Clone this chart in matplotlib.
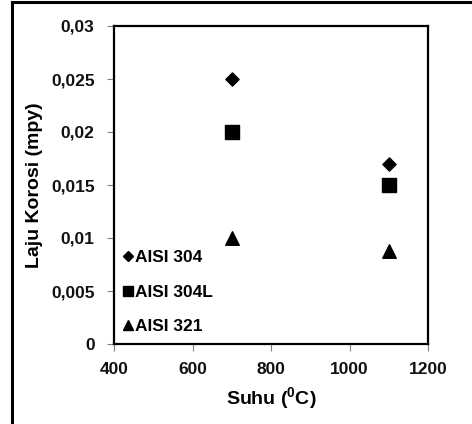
import matplotlib
matplotlib.use("Agg")
import matplotlib.pyplot as plt
from matplotlib.lines import Line2D
from matplotlib.ticker import FuncFormatter

plt.rcParams['font.family'] = ['Liberation Sans', 'DejaVu Sans']
plt.rcParams['mathtext.fontset'] = 'custom'
plt.rcParams['mathtext.rm'] = 'Liberation Sans:bold'
plt.rcParams['mathtext.bf'] = 'Liberation Sans:bold'
plt.rcParams['mathtext.default'] = 'bf'

suhu = [700, 1100]
aisi304 = [0.025, 0.017]
aisi304L = [0.020, 0.015]
aisi321 = [0.010, 0.0088]
series_names = ["AISI 304", "AISI 304L", "AISI 321"]
xticks = [400, 600, 800, 1000, 1200]
yticks = [0, 0.005, 0.01, 0.015, 0.02, 0.025, 0.03]

W, H = 472, 424
fig = plt.figure(figsize=(W / 100, H / 100), dpi=100)
ax = fig.add_axes([114 / W, 1 - 344 / H, (428 - 114) / W, (344 - 26) / H])

ax.scatter(suhu, aisi304, marker='D', s=45, color='black', label=series_names[0], zorder=3)
ax.scatter(suhu, aisi304L, marker='s', s=100, color='black', label=series_names[1], zorder=3)
ax.scatter(suhu, aisi321, marker='^', s=95, color='black', label=series_names[2], zorder=3)

ax.set_xlim(400, 1200)
ax.set_ylim(0, 0.03)
ax.set_xticks(xticks)
ax.set_yticks(yticks)
ax.yaxis.set_major_formatter(FuncFormatter(lambda v, p: ('%g' % v).replace('.', ',')))
ax.tick_params(direction='out', length=5, width=0.8, color='#808080', labelsize=12.5,
               labelcolor='#111111')
ax.tick_params(axis='x', pad=8)
ax.tick_params(axis='y', pad=9)
for lab in ax.get_xticklabels() + ax.get_yticklabels():
    lab.set_fontweight('bold')
for s in ax.spines.values():
    s.set_linewidth(1.6)
    s.set_color('black')

ax.set_xlabel('Suhu ($^{0}$C)', fontsize=14, fontweight='bold', labelpad=6)
ax.set_ylabel('Laju Korosi (mpy)', fontsize=14, fontweight='bold', labelpad=6)

handles = [
    Line2D([], [], marker='D', linestyle='none', color='black', markersize=5),
    Line2D([], [], marker='s', linestyle='none', color='black', markersize=7),
    Line2D([], [], marker='^', linestyle='none', color='black', markersize=7.5),
]
leg = ax.legend(handles, series_names, loc='lower left', frameon=False,
                handlelength=0.6, handletextpad=0.1, labelspacing=1.12,
                borderaxespad=0.1, prop={'weight': 'bold', 'size': 12.5},
                bbox_to_anchor=(0.0, 0.003))

# outer border (left and top visible)
fig.add_artist(Line2D([12 / W, 12 / W], [0, 1 - 2 / H], color='black', lw=2.2,
                      transform=fig.transFigure))
fig.add_artist(Line2D([12 / W, 1], [1 - 2 / H, 1 - 2 / H], color='black', lw=2.2,
                      transform=fig.transFigure))

fig.savefig('out.png', dpi=100)
